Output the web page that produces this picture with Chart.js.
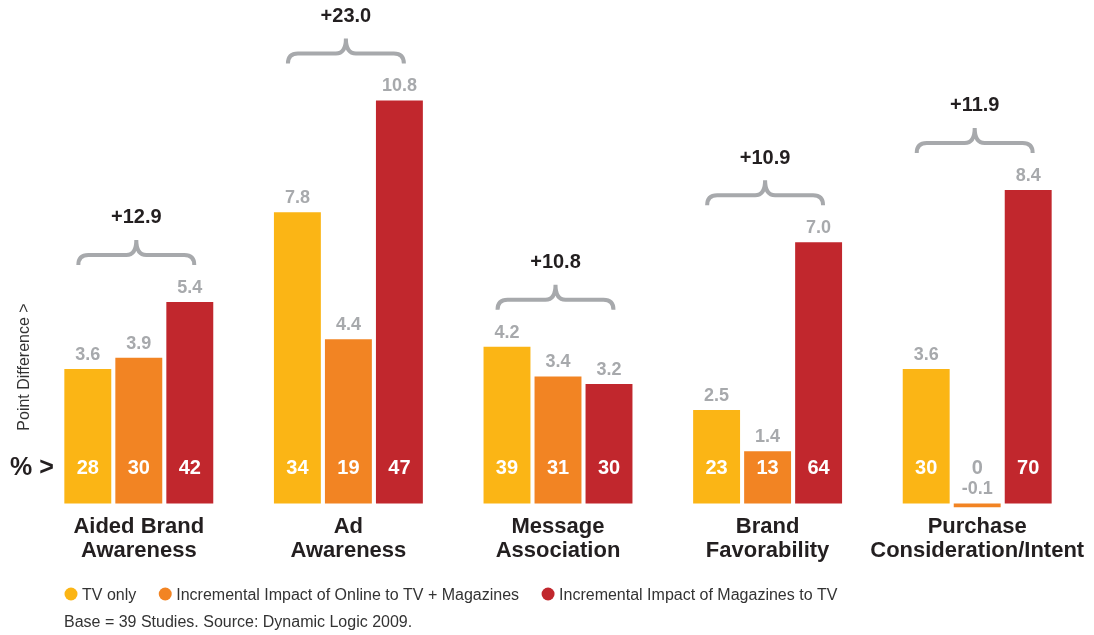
<!DOCTYPE html>
<html>
<head>
<meta charset="utf-8">
<script src="https://cdn.jsdelivr.net/npm/chart.js@4/dist/chart.umd.min.js"></script>
<style>
  html, body { margin: 0; padding: 0; background: #fff; }
  #wrap { width: 1094px; height: 635px; position: relative; }
</style>
</head>
<body>
<div id="wrap"><canvas id="myChart"></canvas></div>
<script>
const categories = [
  ["Aided Brand", "Awareness"],
  ["Ad", "Awareness"],
  ["Message", "Association"],
  ["Brand", "Favorability"],
  ["Purchase", "Consideration/Intent"],
];
const seriesNames = [
  "TV only",
  "Incremental Impact of Online to TV + Magazines",
  "Incremental Impact of Magazines to TV",
];
const tvOnly = [3.6, 7.8, 4.2, 2.5, 3.6];
const onlineImpact = [3.9, 4.4, 3.4, 1.4, -0.1];
const magazineImpact = [5.4, 10.8, 3.2, 7.0, 8.4];
const tvOnlyPct = [28, 34, 39, 23, 30];
const onlinePct = [30, 19, 31, 13, 0];
const magazinePct = [42, 47, 30, 64, 70];
const totals = ["+12.9", "+23.0", "+10.8", "+10.9", "+11.9"];
const sourceNote = "Base = 39 Studies. Source: Dynamic Logic 2009.";

const barColors = ["#FBB515", "#F28423", "#C1272D"];
const pctLabels = [tvOnlyPct, onlinePct, magazinePct];
const FONT = "'Liberation Sans', Arial, Helvetica, sans-serif";
const DARK = "#231F20";
const GREY = "#A7A9AC";

function drawBrace(ctx, x0, x1, yb) {
  const cx = (x0 + x1) / 2;
  const yh = yb - 10;
  const yp = yb - 25;
  const r = 10;
  ctx.beginPath();
  ctx.moveTo(x0, yb);
  ctx.lineTo(x0, yh + r);
  ctx.quadraticCurveTo(x0, yh, x0 + r, yh);
  ctx.lineTo(cx - r, yh);
  ctx.quadraticCurveTo(cx, yh, cx, yp);
  ctx.quadraticCurveTo(cx, yh, cx + r, yh);
  ctx.lineTo(x1 - r, yh);
  ctx.quadraticCurveTo(x1, yh, x1, yh + r);
  ctx.lineTo(x1, yb);
  ctx.stroke();
  return yp;
}

const annotations = {
  id: "annotations",
  afterDatasetsDraw(chart) {
    const ctx = chart.ctx;
    const yScale = chart.scales.y;
    const zero = yScale.getPixelForValue(0);
    ctx.save();
    ctx.textAlign = "center";
    ctx.textBaseline = "middle";

    // value labels and percent labels
    chart.data.datasets.forEach((ds, i) => {
      chart.getDatasetMeta(i).data.forEach((bar, j) => {
        const top = Math.min(bar.y, bar.base);
        ctx.font = "bold 18px " + FONT;
        ctx.fillStyle = GREY;
        ctx.fillText(ds.data[j].toFixed(1), bar.x, top - 14);
        const h = Math.abs(bar.base - bar.y);
        ctx.font = "bold 20px " + FONT;
        ctx.fillStyle = h > 40 ? "#fff" : GREY;
        ctx.fillText(String(pctLabels[i][j]), bar.x, zero - 35);
      });
    });

    // braces with totals
    const metas = [0, 1, 2].map((i) => chart.getDatasetMeta(i).data);
    categories.forEach((c, j) => {
      const first = metas[0][j];
      const last = metas[2][j];
      const maxTop = Math.min(...metas.map((m) => Math.min(m[j].y, m[j].base)));
      const x0 = first.x - first.width / 2 + 14;
      const x1 = last.x + last.width / 2 - 19;
      ctx.strokeStyle = GREY;
      ctx.lineWidth = 4;
      const yp = drawBrace(ctx, x0, x1, maxTop - 37);
      ctx.font = "bold 20px " + FONT;
      ctx.fillStyle = DARK;
      ctx.fillText(totals[j], (x0 + x1) / 2, yp - 22);
    });

    // "% >" marker
    ctx.textAlign = "left";
    ctx.font = "bold 25px " + FONT;
    ctx.fillStyle = DARK;
    ctx.fillText("% >", 10, zero - 35);

    // rotated axis note
    ctx.save();
    ctx.translate(25, 367);
    ctx.rotate(-Math.PI / 2);
    ctx.textAlign = "center";
    ctx.font = "16px " + FONT;
    ctx.fillStyle = "#333";
    ctx.fillText("Point Difference >", 0, 0);
    ctx.restore();

    // legend
    let x = 71;
    ctx.font = "16px " + FONT;
    chart.data.datasets.forEach((ds) => {
      ctx.beginPath();
      ctx.fillStyle = ds.backgroundColor;
      ctx.arc(x, 594, 6.5, 0, Math.PI * 2);
      ctx.fill();
      ctx.fillStyle = "#333";
      ctx.fillText(ds.label, x + 11, 596);
      x += 11 + ctx.measureText(ds.label).width + 29;
    });

    ctx.fillText(sourceNote, 64, 623);
    ctx.restore();
  },
};

new Chart("myChart", {
  type: "bar",
  data: {
    labels: categories,
    datasets: [
      { label: seriesNames[0], data: tvOnly, backgroundColor: barColors[0] },
      { label: seriesNames[1], data: onlineImpact, backgroundColor: barColors[1] },
      { label: seriesNames[2], data: magazineImpact, backgroundColor: barColors[2] },
    ],
  },
  options: {
    responsive: true,
    maintainAspectRatio: false,
    animation: false,
    categoryPercentage: 0.73,
    barPercentage: 0.92,
    layout: {
      padding: { left: 34, right: 12, top: 0, bottom: 72 },
    },
    scales: {
      x: {
        grid: { display: false, drawTicks: false },
        border: { display: false },
        ticks: {
          padding: 0,
          maxRotation: 0,
          minRotation: 0,
          autoSkip: false,
          color: DARK,
          font: { family: FONT, size: 22, weight: "bold", lineHeight: 1.1 },
        },
      },
      y: {
        display: false,
        min: -0.3,
        max: 13.49,
      },
    },
    plugins: {
      legend: { display: false },
      tooltip: { enabled: false },
    },
  },
  plugins: [annotations],
});
</script>
</body>
</html>
